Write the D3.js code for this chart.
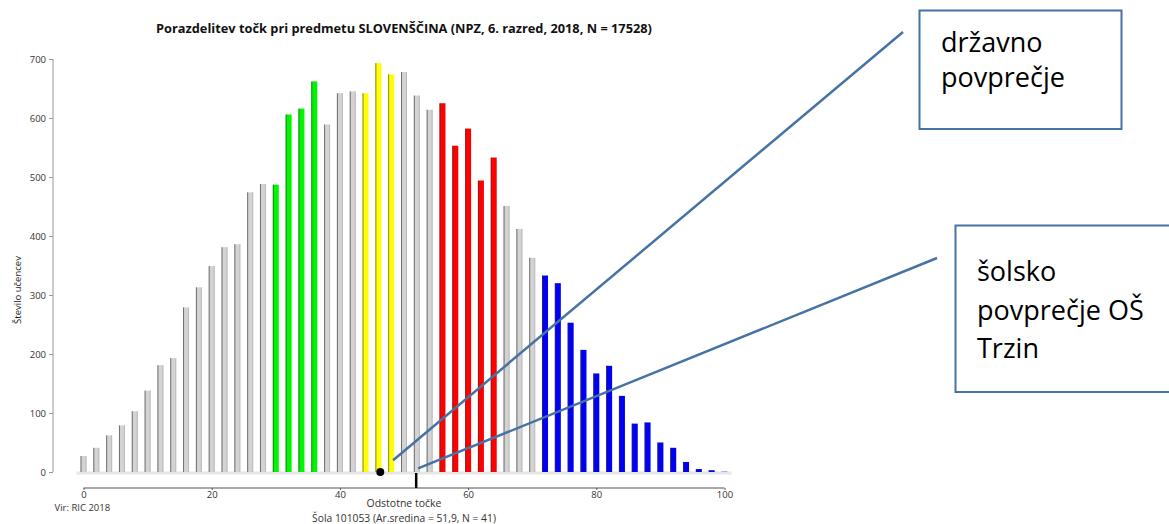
<!DOCTYPE html>
<html><head><meta charset="utf-8">
<script src="https://cdn.jsdelivr.net/npm/d3@7"></script>
<style>body{margin:0;background:#fff}svg{display:block}</style>
</head><body><svg id="c" width="1169" height="524"></svg>
<script>
// ---- data ----
const scores = [0,2,4,6,8,10,12,14,16,18,20,22,24,26,28,30,32,34,36,38,40,42,44,46,48,50,52,54,56,58,60,62,64,66,68,70,72,74,76,78,80,82,84,86,88,90,92,94,96,98,100];
const counts = [27,41,62,79,103,138,181,193,279,313,349,381,386,474,488,487,606,616,662,589,642,645,642,693,674,678,638,614,625,553,582,494,533,451,412,363,333,320,253,207,167,180,129,82,84,50,41,17,5,3,1];
const bandNames = ['green','yellow','red','blue'];
const bandFrom = [30,44,56,72];
const bandTo = [36,48,64,100];
const yTicks = [0,100,200,300,400,500,600,700];
const xTicks = [0,20,40,60,80,100];
const stateMean = 46.3;
const schoolMean = 51.9;
const title = 'Porazdelitev točk pri predmetu SLOVENŠČINA (NPZ, 6. razred, 2018, N = 17528)';
const yTitle = 'Število učencev';
const xTitle = 'Odstotne točke';
const source = 'Vir: RIC 2018';
const footer = 'Šola 101053 (Ar.sredina = 51,9, N = 41)';
const callout1 = ['državno', 'povprečje'];
const callout2 = ['šolsko', 'povprečje OŠ', 'Trzin'];

// ---- styles ----
const colors = {grey:'#d3d3d3', green:'#00f500', yellow:'#ffff00', red:'#ff0000', blue:'#0000f5'};
const svg = d3.select('#c');
const x = d3.scaleLinear().domain([0,100]).range([83.5,724.5]);
const y = d3.scaleLinear().domain([0,700]).range([472,59]);
const font = "'Open Sans', 'DejaVu Sans', sans-serif";

function bandOf(s){
  for(let i=0;i<bandNames.length;i++) if(s>=bandFrom[i] && s<=bandTo[i]) return bandNames[i];
  return 'grey';
}

// title
svg.append('text').attr('x',404).attr('y',33).attr('text-anchor','middle')
  .attr('font-family',font).attr('font-weight','bold').attr('font-size',12.8).attr('fill','#111').text(title);

// baseline band
svg.append('line').attr('x1',x(0)-7).attr('x2',x(100)+7).attr('y1',y(0)+1).attr('y2',y(0)+1)
  .attr('stroke','#e6e6e6').attr('stroke-width',3);

// y axis
const yAxis = d3.axisLeft(y).tickValues(yTicks).tickSize(4).tickPadding(3);
const gy = svg.append('g').attr('transform','translate(53,0)').call(yAxis);
gy.select('.domain').attr('stroke','#999').attr('d','M0,'+y(700)+'V'+y(0));
gy.selectAll('.tick line').attr('stroke','#999');
gy.selectAll('text').attr('font-family',font).attr('font-size',9.5).attr('fill','#333');

svg.append('text').attr('transform','translate(21,290) rotate(-90)').attr('text-anchor','middle')
  .attr('font-family',font).attr('font-size',9.5).attr('fill','#222').text(yTitle);

// bars
const data = scores.map((s,i)=>({s, c:counts[i], band:bandOf(s)}));
const bw = 6;
const bars = svg.append('g');
bars.selectAll('rect.bar').data(data).join('rect').attr('class','bar')
  .attr('x',d=>x(d.s)-bw/2).attr('width',bw)
  .attr('y',d=>y(d.c)).attr('height',d=>y(0)-y(d.c))
  .attr('fill',d=>d.s===100 ? '#7f7ff5' : colors[d.band]);
bars.selectAll('line.edge').data(data.filter(d=>d.c>=3)).join('line').attr('class','edge')
  .attr('x1',d=>x(d.s)-bw/2+0.5).attr('x2',d=>x(d.s)-bw/2+0.5)
  .attr('y1',d=>y(d.c)).attr('y2',y(0))
  .attr('stroke',d=>d.band==='grey'?'#555':'#333').attr('stroke-width',1).attr('stroke-opacity',d=>d.band==='grey'?0.8:0.6);
bars.selectAll('line.redge').data(data.filter(d=>d.band==='grey')).join('line').attr('class','redge')
  .attr('x1',d=>x(d.s)+bw/2-0.5).attr('x2',d=>x(d.s)+bw/2-0.5)
  .attr('y1',d=>y(d.c)).attr('y2',y(0))
  .attr('stroke','#bbb').attr('stroke-width',1);

// x axis
const xAxis = d3.axisBottom(x).tickValues(xTicks).tickSize(2).tickPadding(1);
const gx = svg.append('g').attr('transform','translate(0,488)').call(xAxis);
gx.select('.domain').attr('stroke','#555').attr('d','M'+x(0)+',0H'+x(100));
gx.selectAll('.tick line').attr('stroke','#555');
gx.selectAll('text').attr('font-family',font).attr('font-size',9.5).attr('fill','#333');

svg.append('text').attr('x',x(0)-29).attr('y',511).attr('font-family',font).attr('font-size',9.5).attr('fill','#333').text(source);
svg.append('text').attr('x',404).attr('y',507).attr('text-anchor','middle').attr('font-family',font).attr('font-size',10.5).attr('fill','#333').text(xTitle);
svg.append('text').attr('x',404).attr('y',522).attr('text-anchor','middle').attr('font-family',font).attr('font-size',10.3).attr('fill','#333').text(footer);

// mean markers
svg.append('circle').attr('cx',x(stateMean)).attr('cy',y(0)).attr('r',4).attr('fill','#000');
svg.append('line').attr('x1',x(schoolMean)).attr('x2',x(schoolMean)).attr('y1',y(0)+1).attr('y2',488)
  .attr('stroke','#000').attr('stroke-width',2.5);

// callouts
const blue = '#4672a4';
svg.append('line').attr('x1',x(48.3)).attr('y1',y(20)).attr('x2',903).attr('y2',32)
  .attr('stroke',blue).attr('stroke-width',2.5);
svg.append('line').attr('x1',x(52.2)).attr('y1',y(6)).attr('x2',937).attr('y2',258)
  .attr('stroke',blue).attr('stroke-width',2.5);

svg.append('rect').attr('x',919.5).attr('y',10.5).attr('width',202).attr('height',118.5)
  .attr('fill','#fff').attr('stroke',blue).attr('stroke-width',2);
svg.append('rect').attr('x',955.5).attr('y',225.5).attr('width',240).attr('height',166.5)
  .attr('fill','#fff').attr('stroke',blue).attr('stroke-width',2);

const cfont = "'Open Sans', Lato, sans-serif";
callout1.forEach((t,i)=>svg.append('text').attr('x',941).attr('y',52+i*35)
  .attr('font-family',cfont).attr('font-size',27).attr('fill','#000').text(t));
callout2.forEach((t,i)=>svg.append('text').attr('x',977).attr('y',281+i*38.5)
  .attr('font-family',cfont).attr('font-size',27).attr('fill','#000').text(t));
</script>
</body></html>
